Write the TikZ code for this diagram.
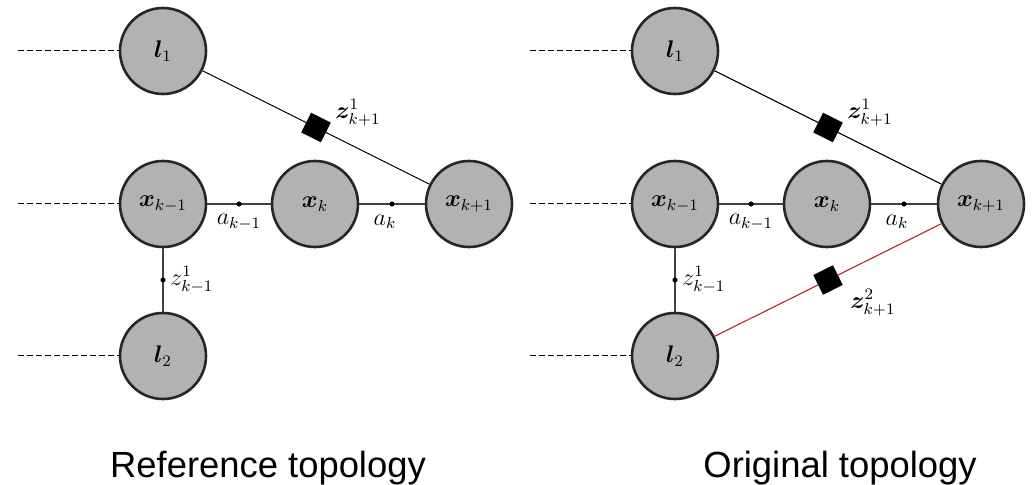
\documentclass[tikz,border=0pt]{standalone}
\usepackage{bm}
\usepackage{fontspec}
\newfontfamily\captionfont{Liberation Sans}
\definecolor{edgered}{RGB}{175,40,40}

% one factor-graph panel; #1 is a prefix for the node names
\newcommand\topologypanel[1]{%
  \node[var] (#1l1) at (163,51)  {$\bm{l}_1$};
  \node[var] (#1xa) at (163,204) {$\bm{x}_{k-1}$};
  \node[var] (#1xb) at (315,204) {$\bm{x}_{k}$};
  \node[var] (#1xc) at (469,204) {$\bm{x}_{k+1}$};
  \node[var] (#1l2) at (163,356) {$\bm{l}_2$};
  % dashed history lines
  \coordinate (#1e1) at (18,51);
  \coordinate (#1e2) at (18,204);
  \coordinate (#1e3) at (18,356);
  \draw[tail] (#1e1) -- (#1l1);
  \draw[tail] (#1e2) -- (#1xa);
  \draw[tail] (#1e3) -- (#1l2);
  % odometry and measurement links
  \draw[link] (#1xa) -- node[dot] (#1da) {} (#1xb);
  \draw[link] (#1xb) -- node[dot] (#1db) {} (#1xc);
  \draw[link] (#1xa) -- node[dot] (#1dz) {} (#1l2);
  \draw[thinlink] (#1l1) -- node[fac] (#1f1) {} (#1xc);
  \node[lbl] (#1ta) at (239,222) {$a_{k-1}$};
  \node[lbl] (#1tb) at (385,222) {$a_{k}$};
  \node[lbl, anchor=west] (#1tz) at (170,280) {$z^1_{k-1}$};
  \node[lbl] (#1tf) at (358,113) {$\bm{z}^1_{k+1}$};
}

\begin{document}
\begin{tikzpicture}[x=0.5pt,y=-0.5pt,
  var/.style={circle, draw=black!85, line width=1.3pt, fill=black!30,
    minimum size=43pt, inner sep=0pt, font=\large},
  fac/.style={rectangle, fill=black, minimum size=11pt, inner sep=0pt, sloped},
  dot/.style={circle, fill=black, minimum size=2.6pt, inner sep=0pt},
  link/.style={line width=0.8pt, draw=black!75},
  thinlink/.style={line width=0.55pt, draw=black},
  redlink/.style={line width=0.55pt, draw=edgered},
  tail/.style={line width=0.5pt, dash pattern=on 3pt off 1.5pt},
  lbl/.style={font=\large, inner sep=0pt},
  title/.style={font=\captionfont\fontsize{18.2}{21}\selectfont, anchor=base, inner sep=0pt}]
\useasboundingbox (0,0) rectangle (1036,485);

\topologypanel{L}

\begin{scope}[xshift=256pt]
  \topologypanel{R}
  \draw[redlink] (Rl2) -- node[fac] (Rf2) {} (Rxc);
  \node[lbl] (Rtf2) at (361,303) {$\bm{z}^2_{k+1}$};
\end{scope}

\node[title] (cap1) at (268,477) {Reference topology};
\node[title] (cap2) at (840,477) {Original topology};
\end{tikzpicture}
\end{document}
